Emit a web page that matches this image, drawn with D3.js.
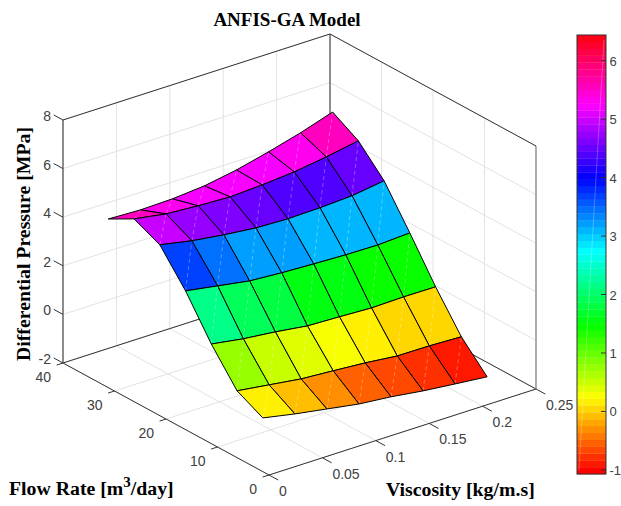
<!DOCTYPE html>
<html>
<head>
<meta charset="utf-8">
<script src="https://cdn.jsdelivr.net/npm/d3@7"></script>
<style>
    html, body { margin: 0; padding: 0; background: #fff; }
    svg { display: block; }
    text { font-family: "Liberation Sans", sans-serif; font-size: 14px; fill: #404040; }
    .lbl { font-family: "Liberation Serif", serif; font-weight: bold; font-size: 19.8px; fill: #000; }
</style>
</head>
<body>
<div id="chart"></div>
<script>
var viscosity = [0, 0.03, 0.06, 0.09, 0.12, 0.15, 0.18, 0.21];
var flowRate = [1.2, 6.2, 11.2, 16.2, 21.2, 26.2, 31.2];
// one row per flow rate, lowest flow first
var pressure = [
    [0.21, -0.05, -0.27, -0.49, -0.62, -0.80, -0.94, -1.07],
    [0.75, 0.57, 0.39, 0.30, 0.20, 0.06, 0.05, 0.00],
    [2.10, 1.89, 1.75, 1.57, 1.52, 1.46, 1.49, 1.48],
    [3.71, 3.49, 3.27, 3.18, 3.12, 3.07, 3.05, 3.12],
    [5.03, 4.77, 4.59, 4.45, 4.40, 4.43, 4.50, 4.69],
    [5.52, 5.30, 5.21, 5.15, 5.22, 5.33, 5.52, 5.76],
    [4.94, 4.89, 4.92, 5.03, 5.26, 5.58, 5.94, 6.37]
];
var xTicks = [0, 0.05, 0.1, 0.15, 0.2, 0.25];
var yTicks = [0, 10, 20, 30, 40];
var zTicks = [-2, 0, 2, 4, 6, 8];
var barTicks = [-1, 0, 1, 2, 3, 4, 5, 6];
var barRange = [-1.07, 6.44];

var width = 621,
    height = 506;

var svg = d3.select("#chart")
    .append("svg")
    .attr("width", width)
    .attr("height", height);

// axis directions on screen (orthographic view)
var xToPx = d3.scaleLinear().domain([0, 0.25]).range([0, 267]);
var xToPy = d3.scaleLinear().domain([0, 0.25]).range([0, -86]);
var yToPx = d3.scaleLinear().domain([0, 40]).range([0, -206]);
var yToPy = d3.scaleLinear().domain([0, 40]).range([0, -112]);
var zToPy = d3.scaleLinear().domain([-2, 8]).range([0, -243]);

function project(x, y, z) {
    return [269 + xToPx(x) + yToPx(y), 475 + xToPy(x) + yToPy(y) + zToPy(z)];
}

var line = d3.line();
var xMax = 0.25, yMax = 40, zMin = -2, zMax = 8;

function seg(a, b, color, w) {
    svg.append("path")
        .attr("d", line([project(a[0], a[1], a[2]), project(b[0], b[1], b[2])]))
        .attr("fill", "none")
        .attr("stroke", color)
        .attr("stroke-width", w);
}

// grid on the floor and the two back walls
var gridColor = "#e2e2e2";
xTicks.forEach(function (x) {
    seg([x, 0, zMin], [x, yMax, zMin], gridColor, 1);
    seg([x, yMax, zMin], [x, yMax, zMax], gridColor, 1);
});
yTicks.forEach(function (y) {
    seg([0, y, zMin], [xMax, y, zMin], gridColor, 1);
    seg([xMax, y, zMin], [xMax, y, zMax], gridColor, 1);
});
zTicks.forEach(function (z) {
    seg([0, yMax, z], [xMax, yMax, z], gridColor, 1);
    seg([xMax, yMax, z], [xMax, 0, z], gridColor, 1);
});

// box
var boxColor = "#333";
seg([0, 0, zMin], [xMax, 0, zMin], boxColor, 1);
seg([0, 0, zMin], [0, yMax, zMin], boxColor, 1);
seg([0, yMax, zMin], [xMax, yMax, zMin], boxColor, 1);
seg([xMax, 0, zMin], [xMax, yMax, zMin], boxColor, 1);
seg([0, yMax, zMin], [0, yMax, zMax], "#555", 1.3);
seg([xMax, yMax, zMin], [xMax, yMax, zMax], boxColor, 1);
seg([xMax, 0, zMin], [xMax, 0, zMax], "#888", 1.3);
seg([0, yMax, zMax], [xMax, yMax, zMax], boxColor, 1);
seg([xMax, yMax, zMax], [xMax, 0, zMax], boxColor, 1);

// ticks and tick labels
xTicks.forEach(function (x) {
    seg([x, 0, zMin], [x, -1.8, zMin], boxColor, 1);
    var p = project(x, 0, zMin);
    svg.append("text").attr("x", p[0] + 10).attr("y", p[1] + 21).text(x);
});
yTicks.forEach(function (y) {
    seg([0, y, zMin], [-0.006, y, zMin], boxColor, 1);
    var p = project(0, y, zMin);
    svg.append("text").attr("x", p[0] - 12).attr("y", p[1] + 19).attr("text-anchor", "end").text(y);
});
zTicks.forEach(function (z) {
    seg([0, yMax, z], [0, yMax + 1.8, z], boxColor, 1);
    var p = project(0, yMax, z);
    svg.append("text").attr("x", p[0] - 12).attr("y", p[1] + 1).attr("text-anchor", "end").text(z);
});

// hsv colormap, 64 bands
var bands = d3.range(64).map(function (i) {
    return d3.hsl(i / 64 * 360, 1, 0.5).formatHex();
});
var color = d3.scaleQuantize().domain(barRange).range(bands);

// surface, painted from the back corner forward
for (var j = flowRate.length - 2; j >= 0; j--) {
    for (var i = viscosity.length - 2; i >= 0; i--) {
        var a = project(viscosity[i], flowRate[j], pressure[j][i]),
            b = project(viscosity[i + 1], flowRate[j], pressure[j][i + 1]),
            c = project(viscosity[i + 1], flowRate[j + 1], pressure[j + 1][i + 1]),
            d = project(viscosity[i], flowRate[j + 1], pressure[j + 1][i]);
        svg.append("path").attr("d", line([a, b, c, d]) + "Z")
            .attr("fill", color(pressure[j][i]));
        // faint seam across each patch
        svg.append("path").attr("d", line([a, c]))
            .attr("stroke", "#fff")
            .attr("stroke-opacity", 0.3)
            .attr("stroke-dasharray", "4 3");
        svg.append("path").attr("d", line([a, b, c, d]) + "Z")
            .attr("fill", "none")
            .attr("stroke", "#000")
            .attr("stroke-width", 1)
            .attr("stroke-linejoin", "round");
    }
}

// colorbar
var barY = d3.scaleLinear().domain(barRange).range([474, 35]);
var barX = 577, barW = 29;
svg.selectAll(".band")
    .data(bands)
    .enter().append("rect")
    .attr("class", "band")
    .attr("x", barX)
    .attr("width", barW)
    .attr("y", function (d, i) {
        return barY(barRange[0] + (i + 1) * (barRange[1] - barRange[0]) / 64)
    })
    .attr("height", (474 - 35) / 64 + 0.3)
    .attr("fill", function (d) { return d });
svg.append("line")
    .attr("x1", barX + 2).attr("y1", 470)
    .attr("x2", barX + barW - 2).attr("y2", 40)
    .attr("stroke", "#fff").attr("stroke-opacity", 0.25);
svg.append("rect")
    .attr("x", barX).attr("y", 35)
    .attr("width", barW).attr("height", 439)
    .attr("fill", "none").attr("stroke", "#333");
barTicks.forEach(function (t) {
    svg.append("line")
        .attr("x1", barX + barW - 5).attr("x2", barX + barW)
        .attr("y1", barY(t)).attr("y2", barY(t))
        .attr("stroke", "#333");
    svg.append("text").attr("x", 609.5).attr("y", barY(t) + 5)
        .style("font-size", "13px").text(t);
});

// labels
svg.append("text").attr("class", "lbl")
    .attr("x", 287).attr("y", 26)
    .attr("text-anchor", "middle")
    .style("font-size", "19px")
    .text("ANFIS-GA Model");
svg.append("text").attr("class", "lbl")
    .attr("transform", "translate(30,244) rotate(-90)")
    .attr("text-anchor", "middle")
    .text("Differential Pressure [MPa]");
var flowLabel = svg.append("text").attr("class", "lbl").attr("x", 9).attr("y", 495);
flowLabel.append("tspan").text("Flow Rate [m");
flowLabel.append("tspan").attr("dy", -8).style("font-size", "15px").text("3");
flowLabel.append("tspan").attr("dy", 8).text("/day]");
svg.append("text").attr("class", "lbl")
    .attr("x", 386).attr("y", 496)
    .text("Viscosity [kg/m.s]");
</script>
</body>
</html>
